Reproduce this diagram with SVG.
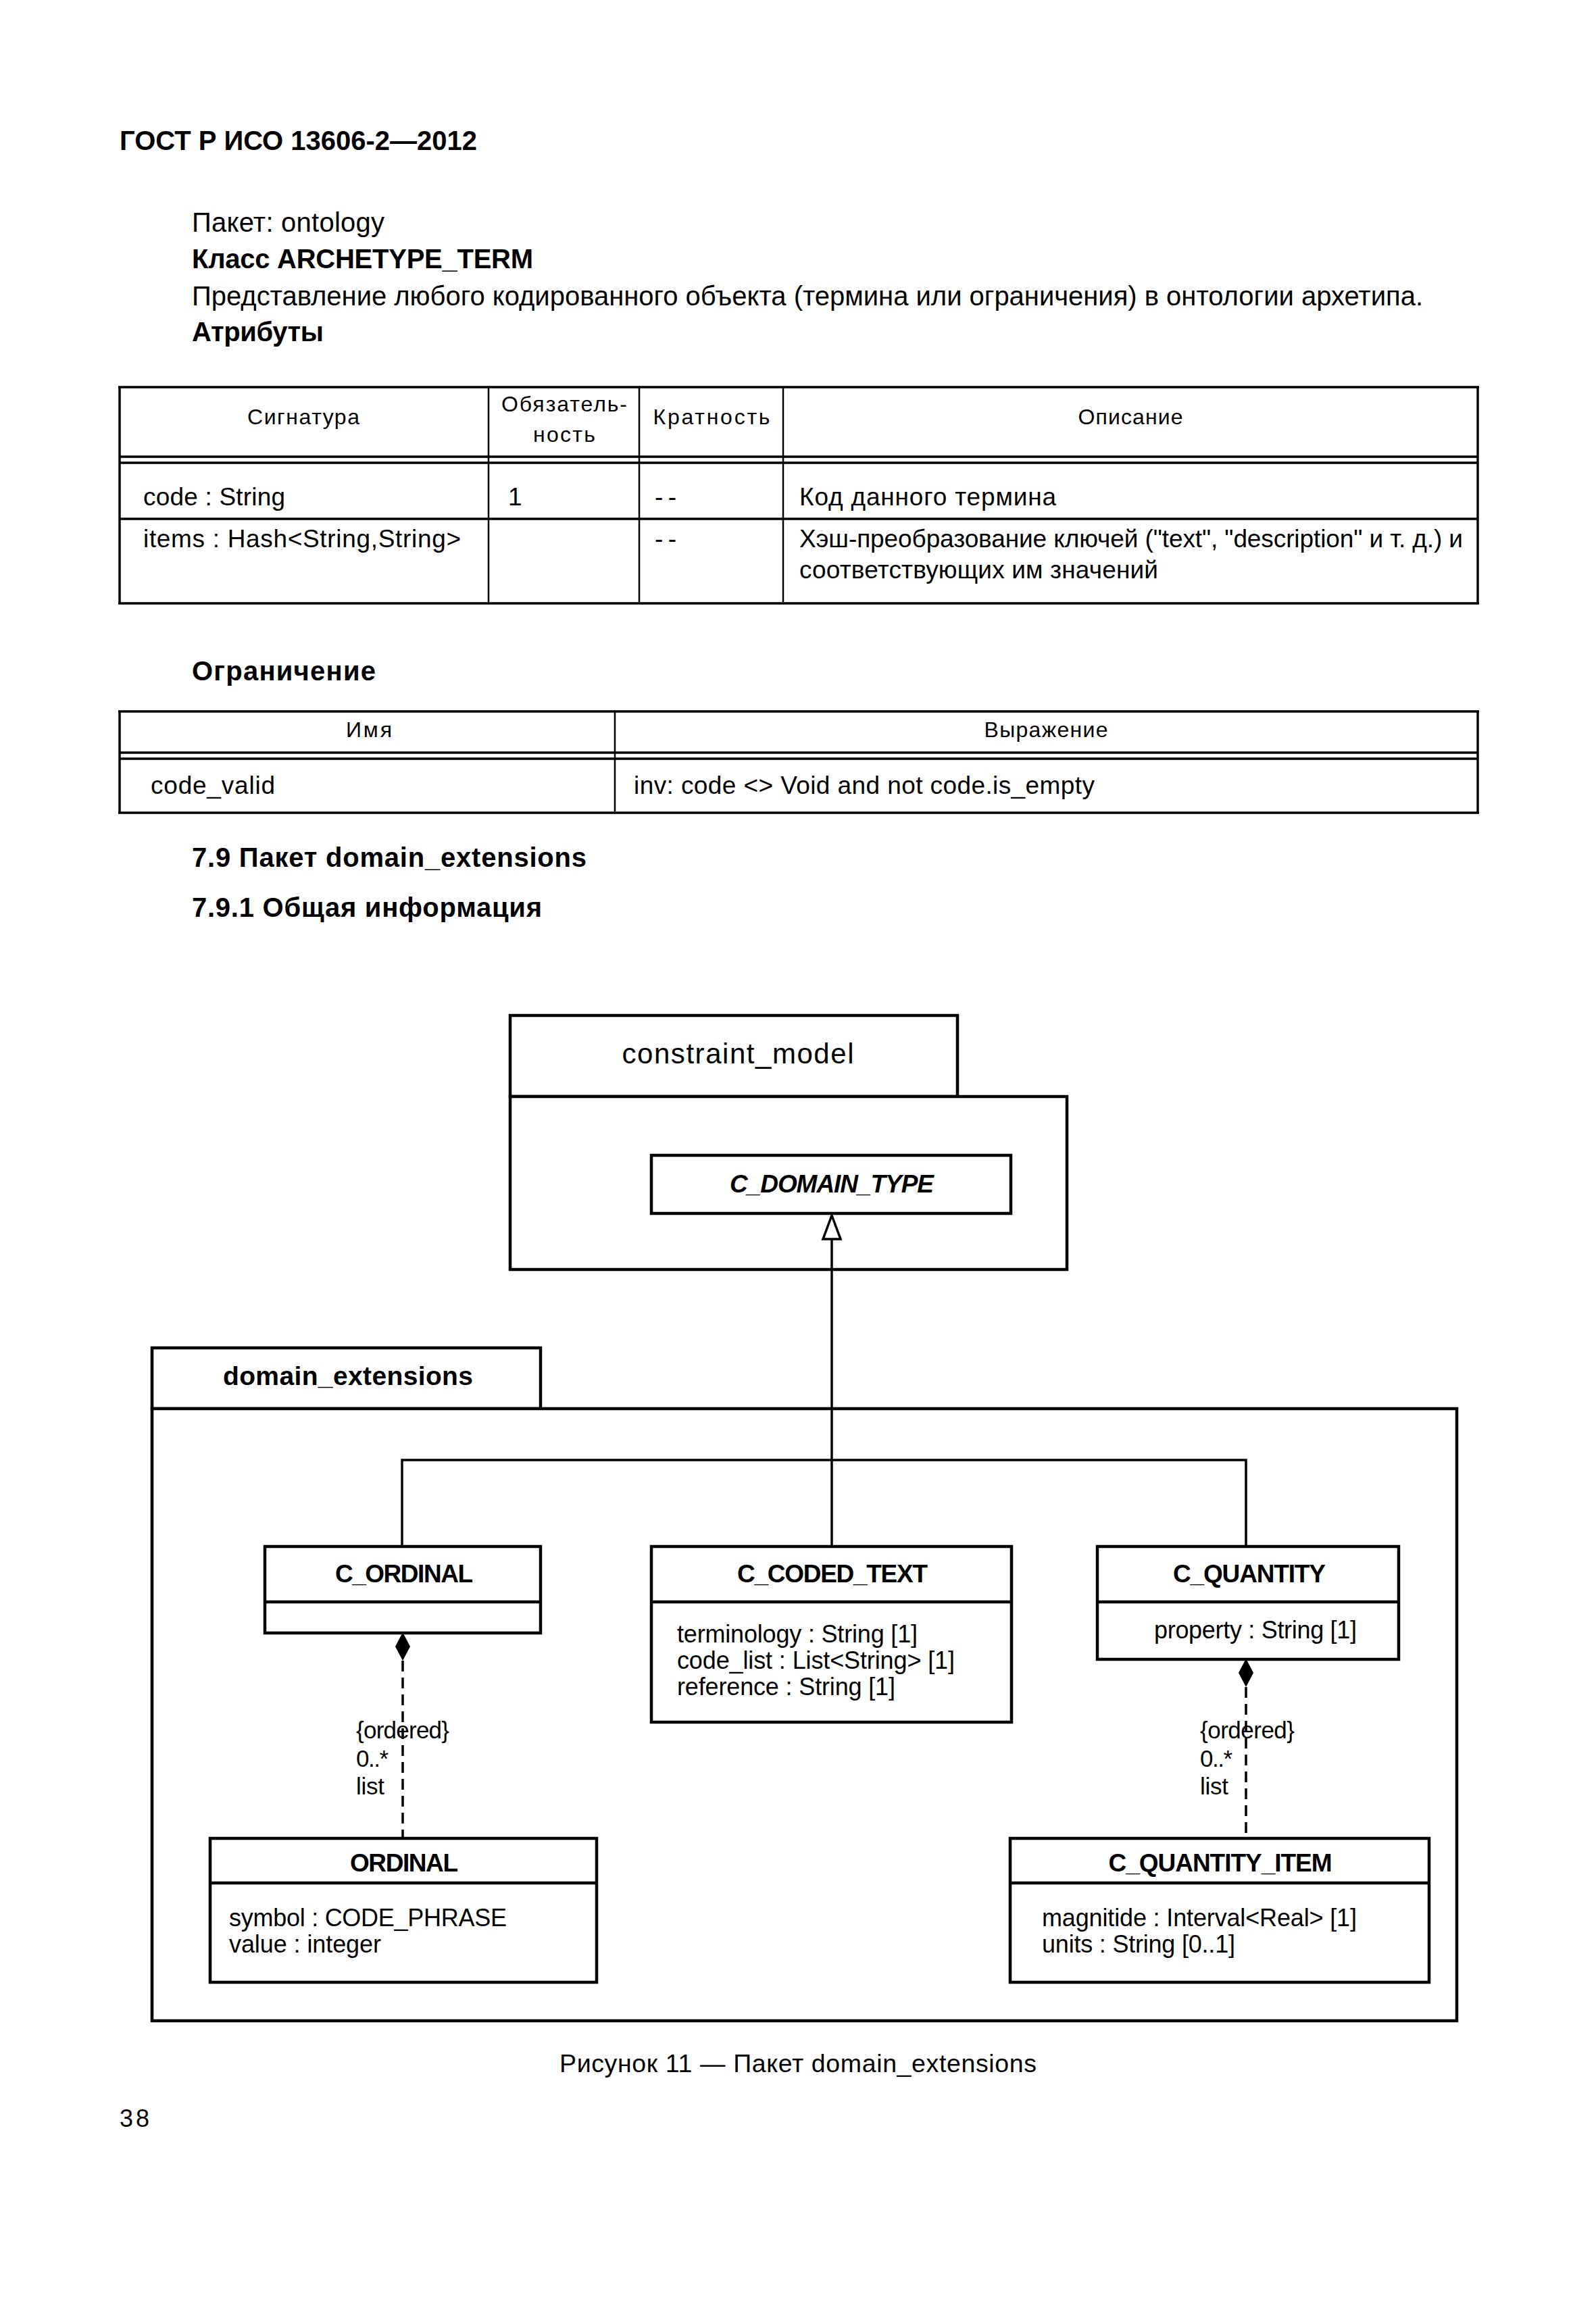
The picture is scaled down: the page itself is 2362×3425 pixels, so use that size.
<svg xmlns="http://www.w3.org/2000/svg" width="2362" height="3425" viewBox="0 0 2362 3425">
<style>
text{font-family:"Liberation Sans",Arial,"Noto Sans",sans-serif;fill:#000}
.b{font-weight:bold}
.h{font-size:40px}
.th{font-size:32px}
.td{font-size:37px}
.m{text-anchor:middle}
.pk{font-size:42px}
.cn{font-size:37px;font-weight:bold;text-anchor:middle}
.at{font-size:36px}
.lb{font-size:35px}
.box{fill:#fff;stroke:#000;stroke-width:4.5}
.ln{stroke:#000;stroke-width:4.5;fill:none}
.tl{stroke:#000;stroke-width:3.5;fill:none}
.tv{stroke:#000;stroke-width:2.5;fill:none}
.con{stroke:#000;stroke-width:3.5;fill:none}
.dash{stroke:#000;stroke-width:3.5;fill:none;stroke-dasharray:16 9}
</style>
<defs>
<marker id="tri" markerUnits="userSpaceOnUse" viewBox="-40 -16 42 32" refX="0" refY="0" markerWidth="42" markerHeight="32" orient="auto" overflow="visible"><path d="M0 0 L-35 -13 L-35 13 Z" fill="#fff" stroke="#000" stroke-width="3.5"/></marker>
<marker id="dia" markerUnits="userSpaceOnUse" viewBox="-44 -13 46 26" refX="0" refY="0" markerWidth="46" markerHeight="26" orient="auto" overflow="visible"><path d="M0 0 L-21 -11 L-42 0 L-21 11 Z" fill="#000"/></marker>
</defs>
<rect x="0" y="0" width="2362" height="3425" fill="#fff"/>

<g id="page-text">
<text class="h b" x="177" y="222" textLength="529">ГОСТ Р ИСО 13606-2—2012</text>
<text class="h" x="284" y="343" textLength="285">Пакет: ontology</text>
<text class="h b" x="284" y="397" textLength="505">Класс ARCHETYPE_TERM</text>
<text class="h" x="284" y="452" textLength="1822">Представление любого кодированного объекта (термина или ограничения) в онтологии архетипа.</text>
<text class="h b" x="284" y="505" textLength="195">Атрибуты</text>
<text class="h b" x="284" y="1007" textLength="272">Ограничение</text>
<text class="h b" x="284" y="1283" textLength="584">7.9 Пакет domain_extensions</text>
<text class="h b" x="284" y="1357" textLength="518">7.9.1 Общая информация</text>
<text class="m" x="1181" y="3067" font-size="37.5" textLength="706">Рисунок 11 — Пакет domain_extensions</text>
<text x="177" y="3148" font-size="36" textLength="44">38</text>
</g>

<g id="table-attributes">
<path class="tl" d="M175 573 H2189 M175 893 H2189 M177 573 V893 M2187 573 V893 M177 676 H2187 M177 685 H2187 M177 768 H2187"/>
<path class="tv" d="M723 573 V891 M946 573 V891 M1159 573 V891"/>
<text class="th m" x="449" y="628" textLength="166">Сигнатура</text>
<text class="th m" x="835" y="609" textLength="186">Обязатель-</text>
<text class="th m" x="835" y="654" textLength="92">ность</text>
<text class="th m" x="1053" y="628" textLength="173">Кратность</text>
<text class="th m" x="1673" y="628" textLength="155">Описание</text>
<text class="td" x="212" y="748" textLength="210">code : String</text>
<text class="td" x="752" y="748">1</text>
<text class="td" x="969" y="748" textLength="32">- -</text>
<text class="td" x="1183" y="748" textLength="380">Код данного термина</text>
<text class="td" x="212" y="810" textLength="470">items  :  Hash&lt;String,String&gt;</text>
<text class="td" x="969" y="810" textLength="32">- -</text>
<text class="td" x="1183" y="810" textLength="982">Хэш-преобразование ключей ("text", "description" и т. д.) и</text>
<text class="td" x="1183" y="856" textLength="531">соответствующих им значений</text>
</g>

<g id="table-constraint">
<path class="tl" d="M175 1053 H2189 M175 1203 H2189 M177 1053 V1203 M2187 1053 V1203 M177 1114 H2187 M177 1123 H2187"/>
<path class="tv" d="M910 1053 V1201"/>
<text class="th m" x="546" y="1091" textLength="68">Имя</text>
<text class="th m" x="1548" y="1091" textLength="183">Выражение</text>
<text class="td" x="223" y="1175" textLength="184">code_valid</text>
<text class="td" x="938" y="1175" textLength="682">inv: code &lt;&gt; Void and not code.is_empty</text>
</g>

<g id="pkg-constraint_model">
<rect class="box" x="755" y="1503" width="662" height="120"/>
<rect class="box" x="755" y="1623" width="824" height="256"/>
<text class="pk m" x="1092" y="1574" textLength="343">constraint_model</text>
</g>

<g id="pkg-domain_extensions">
<rect class="box" x="225" y="1995" width="575" height="90"/>
<rect class="box" x="225" y="2085" width="1931" height="906"/>
<text class="b m" x="515" y="2050" font-size="39" textLength="370">domain_extensions</text>
</g>

<g id="cls-C_DOMAIN_TYPE">
<rect class="box" x="964" y="1710" width="532" height="86"/>
<text class="cn" x="1231" y="1765" font-style="italic" textLength="302">C_DOMAIN_TYPE</text>
</g>

<g id="cls-C_ORDINAL">
<rect class="box" x="392" y="2289" width="408" height="128"/>
<path class="ln" d="M392 2371 H800"/>
<text class="cn" x="598" y="2342" textLength="204">C_ORDINAL</text>
</g>

<g id="cls-C_CODED_TEXT">
<rect class="box" x="964" y="2289" width="533" height="260"/>
<path class="ln" d="M964 2371 H1497"/>
<text class="cn" x="1232" y="2342" textLength="282">C_CODED_TEXT</text>
<text class="at" x="1002" y="2431" textLength="356">terminology : String [1]</text>
<text class="at" x="1002" y="2470" textLength="411">code_list : List&lt;String&gt; [1]</text>
<text class="at" x="1002" y="2509" textLength="323">reference : String [1]</text>
</g>

<g id="cls-C_QUANTITY">
<rect class="box" x="1624" y="2289" width="446" height="167"/>
<path class="ln" d="M1624 2371 H2070"/>
<text class="cn" x="1849" y="2342" textLength="226">C_QUANTITY</text>
<text class="at" x="1708" y="2425" textLength="300">property : String [1]</text>
</g>

<g id="cls-ORDINAL">
<rect class="box" x="311" y="2721" width="572" height="213"/>
<path class="ln" d="M311 2787 H883"/>
<text class="cn" x="598" y="2770" textLength="160">ORDINAL</text>
<text class="at" x="339" y="2851" textLength="411">symbol : CODE_PHRASE</text>
<text class="at" x="339" y="2890" textLength="225">value : integer</text>
</g>

<g id="cls-C_QUANTITY_ITEM">
<rect class="box" x="1495" y="2721" width="620" height="213"/>
<path class="ln" d="M1495 2787 H2115"/>
<text class="cn" x="1806" y="2770" textLength="331">C_QUANTITY_ITEM</text>
<text class="at" x="1542" y="2851" textLength="466">magnitide : Interval&lt;Real&gt; [1]</text>
<text class="at" x="1542" y="2890" textLength="286">units : String [0..1]</text>
</g>

<g id="connectors">
<path class="con" d="M595 2287 V2161 H1844 V2287"/>
<path class="con" d="M1231 2287 V1799" marker-end="url(#tri)"/>
<path class="dash" d="M596 2458 V2719" marker-start="url(#dia)"/>
<path class="dash" d="M1844 2497 V2719" marker-start="url(#dia)"/>
<text class="lb" x="527" y="2573" textLength="138">{ordered}</text>
<text class="lb" x="527" y="2615" textLength="48">0..*</text>
<text class="lb" x="527" y="2656" textLength="42">list</text>
<text class="lb" x="1776" y="2573" textLength="140">{ordered}</text>
<text class="lb" x="1776" y="2615" textLength="48">0..*</text>
<text class="lb" x="1776" y="2656" textLength="42">list</text>
</g>
</svg>
